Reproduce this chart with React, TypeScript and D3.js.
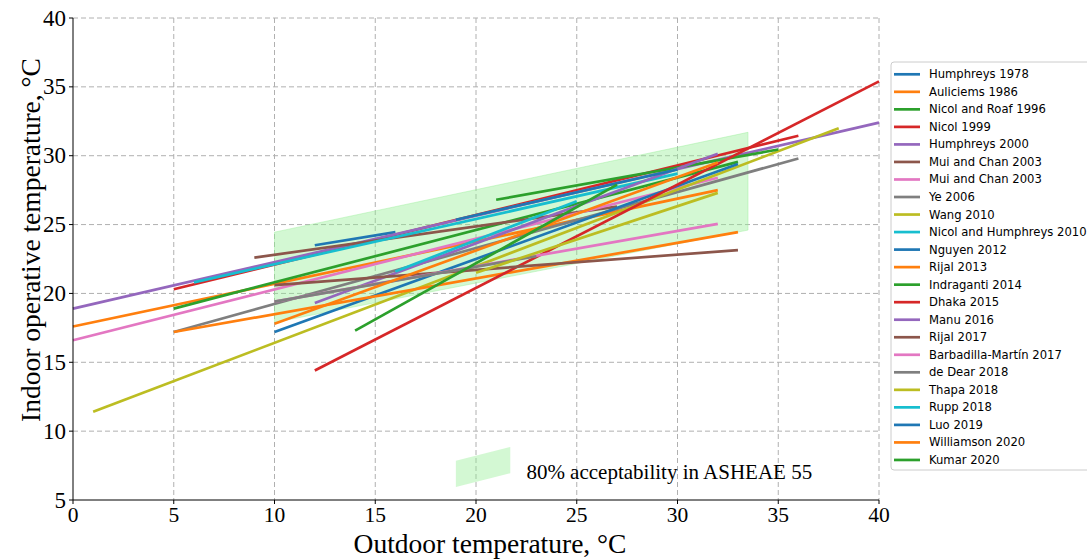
import React from "react";
import * as d3 from "d3";

const studies = [
  "Humphreys 1978", "Auliciems 1986", "Nicol and Roaf 1996", "Nicol 1999", "Humphreys 2000",
  "Mui and Chan 2003", "Mui and Chan 2003", "Ye 2006", "Wang  2010", "Nicol and Humphreys 2010",
  "Nguyen 2012", "Rijal 2013", "Indraganti 2014", "Dhaka 2015", "Manu 2016", "Rijal 2017",
  "Barbadilla-Martín 2017", "de Dear 2018", "Thapa 2018", "Rupp 2018", "Luo 2019",
  "Williamson 2020", "Kumar 2020",
];
const xStart = [12, 0, 5, 5, 0, 9, 0, 5, 1, 6, 10, 5, 21, 12, 12, 10, 10, 10, 20, 16, 19, 10, 14];
const xEnd = [16, 32, 33, 36, 40, 27, 32, 36, 38, 30, 33, 33, 35, 40, 32, 33, 32, 23, 32, 25, 30, 32, 27];
const yStart = [23.5, 17.6, 18.9, 20.3, 18.9, 22.6, 16.6, 17.2, 11.4, 20.8, 17.2, 17.2, 26.8, 14.4, 19.3, 20.6, 19.4, 19.4, 21.5, 21.6, 25.35, 17.8, 17.3];
const yEnd = [24.45, 27.5, 29.55, 31.45, 32.4, 26.3, 28.4, 29.8, 32.0, 28.7, 29.4, 24.45, 30.45, 35.4, 30.15, 23.15, 25.05, 22.7, 27.3, 26.7, 29.0, 29.5, 27.9];

const bandX = [10, 33.5];
const bandLow = [17.9, 24.6];
const bandHigh = [24.45, 31.7];

const xTicks = [0, 5, 10, 15, 20, 25, 30, 35, 40];
const yTicks = [5, 10, 15, 20, 25, 30, 35, 40];

const bandLabel = "80% acceptability in ASHEAE 55";
const xLabel = "Outdoor temperature, °C";
const yLabel = "Indoor operative temperature, °C";

export default function App() {
  const W = 1087, H = 560;
  const x = d3.scaleLinear().domain([0, 40]).range([73, 879]);
  const y = d3.scaleLinear().domain([5, 40]).range([500, 18]);
  const color = d3.scaleOrdinal<number, string>().domain(d3.range(10)).range(d3.schemeCategory10);
  const line = d3.line<[number, number]>().x((d) => x(d[0])).y((d) => y(d[1]));

  const bandPts: [number, number][] = [
    [bandX[0], bandLow[0]], [bandX[1], bandLow[1]], [bandX[1], bandHigh[1]], [bandX[0], bandHigh[0]],
  ];
  const bandPath = line(bandPts) + "Z";
  const patchPts: [number, number][] = [[19, 5.95], [21.7, 6.95], [21.7, 8.85], [19, 7.85]];
  const patchPath = line(patchPts) + "Z";

  const serif = "'Liberation Serif', 'Times New Roman', serif";
  const sans = "'DejaVu Sans', sans-serif";
  const gridColor = "#b0b0b0";

  const legX = 891, legY = 62, legStep = 17.53;

  return (
    <div style={{ position: "fixed", left: 0, top: 0 }}>
      <svg width={W} height={H} style={{ display: "block", background: "#fff" }}>
        <g>
          {xTicks.filter((t) => t > 0).map((t) => (
            <line key={"gx" + t} x1={x(t)} x2={x(t)} y1={y(40)} y2={y(5)} stroke={gridColor} strokeWidth={1} strokeDasharray="5,3" />
          ))}
          {yTicks.filter((t) => t > 5).map((t) => (
            <line key={"gy" + t} x1={x(0)} x2={x(40)} y1={y(t)} y2={y(t)} stroke={gridColor} strokeWidth={1} strokeDasharray="5,3" />
          ))}
        </g>
        <path d={bandPath} fill="#90ee90" fillOpacity={0.4} stroke="#90ee90" strokeOpacity={0.4} strokeWidth={1} />
        <path d={patchPath} fill="#90ee90" fillOpacity={0.4} />
        <text x={x(22.5)} y={y(6.9)} fontFamily={serif} fontSize={21} fill="#000" dominantBaseline="middle">{bandLabel}</text>
        <g>
          {studies.map((s, i) => (
            <path key={i} d={line([[xStart[i], yStart[i]], [xEnd[i], yEnd[i]]]) || ""} stroke={color(i % 10)} strokeWidth={2.7} fill="none" />
          ))}
        </g>
        <line x1={x(0)} x2={x(0)} y1={y(40)} y2={y(5)} stroke="#000" strokeWidth={1} />
        <line x1={x(0)} x2={x(40)} y1={y(5)} y2={y(5)} stroke="#000" strokeWidth={1} />
        {xTicks.map((t) => (
          <g key={"xt" + t}>
            <line x1={x(t)} x2={x(t)} y1={y(5)} y2={y(5) + 4} stroke="#000" />
            <text x={x(t)} y={y(5) + 22} textAnchor="middle" fontFamily={serif} fontSize={21.5}>{t}</text>
          </g>
        ))}
        {yTicks.map((t) => (
          <g key={"yt" + t}>
            <line x1={x(0) - 4} x2={x(0)} y1={y(t)} y2={y(t)} stroke="#000" />
            <text x={x(0) - 7} y={y(t)} textAnchor="end" dominantBaseline="central" fontFamily={serif} fontSize={23}>{t}</text>
          </g>
        ))}
        <text x={490} y={553} textAnchor="middle" fontFamily={serif} fontSize={27.5}>{xLabel}</text>
        <text transform={`translate(30, ${240}) rotate(-90)`} textAnchor="middle" dominantBaseline="central" fontFamily={serif} fontSize={27.5}>{yLabel}</text>
        <rect x={legX} y={legY} width={220} height={408} rx={3} fill="#fff" fillOpacity={0.8} stroke="#cccccc" strokeWidth={1} />
        {studies.map((s, i) => (
          <g key={"lg" + i}>
            <line x1={894} x2={920} y1={74.3 + i * legStep} y2={74.3 + i * legStep} stroke={color(i % 10)} strokeWidth={2.7} />
            <text x={929} y={74.3 + i * legStep} dominantBaseline="central" fontFamily={sans} fontSize={11.6} fill="#000">{s}</text>
          </g>
        ))}
      </svg>
    </div>
  );
}
